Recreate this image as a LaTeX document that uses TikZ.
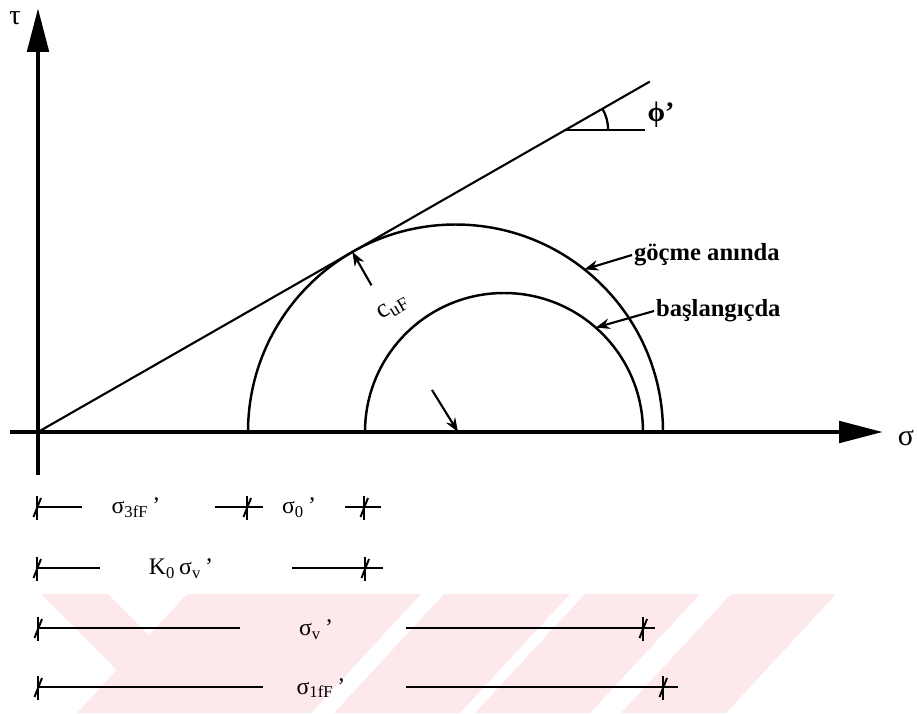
\documentclass[tikz,border=0pt]{standalone}
\usepackage{fontspec}
\setmainfont{Liberation Serif}
\usetikzlibrary{arrows.meta, positioning, calc}
\definecolor{WM}{RGB}{253,232,236}

% tick mark of the stress bars
\newcommand{\dimtick}[1]{%
  \draw[line width=1.1pt] ($(#1)+(0,0.22)$) -- ($(#1)+(0,-0.26)$);
  \draw[line width=1.1pt] ($(#1)+(-0.07,-0.2)$) -- ($(#1)+(0.08,0.18)$);}

\begin{document}
\begin{tikzpicture}[
  axis/.style={line width=2.8pt, -{Triangle[length=25pt,width=12pt]}},
  mohr/.style={line width=1.4pt},
  ptr/.style={-{Stealth[length=8pt,width=6pt]}, line width=1.2pt},
  dim/.style={line width=1pt},
  lbl/.style={font=\fontsize{13.5}{15}\selectfont, inner sep=1pt},
  tag/.style={font=\fontsize{14}{16}\selectfont\bfseries, anchor=west, inner sep=1pt}
]
\useasboundingbox (0,0) rectangle (18.34,-14.26);

% watermark bands
\fill[WM] (0.82,-11.88) -- (2.16,-11.88) -- (4.54,-14.26) -- (3.2,-14.26) -- cycle;
\fill[WM] (3.74,-11.88) -- (8.42,-11.88) -- (6.22,-14.26) -- (1.54,-14.26) -- cycle;
\fill[WM] (8.88,-11.88) -- (11.4,-11.88) -- (9.2,-14.26) -- (6.68,-14.26) -- cycle;
\fill[WM] (11.7,-11.88) -- (14.0,-11.88) -- (11.8,-14.26) -- (9.5,-14.26) -- cycle;
\fill[WM] (14.62,-11.88) -- (16.72,-11.88) -- (14.52,-14.26) -- (12.42,-14.26) -- cycle;

% axes
\coordinate (O) at (0.76,-8.64);
\coordinate (sx0) at (0.2,-8.64);
\coordinate (sx1) at (17.66,-8.64);
\coordinate (ty0) at (0.76,-9.5);
\coordinate (ty1) at (0.76,-0.16);
\draw[axis] (sx0) -- (sx1);
\draw[axis] (ty0) -- (ty1);
\node[font=\fontsize{17}{19}\selectfont] (sig) at (18.12,-8.76) {σ};
\node[font=\fontsize{16}{18}\selectfont] (tau) at (0.3,-0.36) {τ};

% Mohr circles
\coordinate (C1) at (9.11,-8.64);
\coordinate (C0) at (10.08,-8.64);
\draw[mohr] ($(C1)+(4.15,0)$) arc[start angle=0, end angle=180, radius=4.15];
\draw[mohr] ($(C0)+(2.78,0)$) arc[start angle=0, end angle=180, radius=2.78];

% failure envelope
\coordinate (E) at ($(O)+(29.8:14.1)$);
\draw[line width=1.2pt] (O) -- (E);
\coordinate (P) at ($(O)+(29.8:12.15)$);
\coordinate (Ph) at ($(P)+(1.6,0)$);
\draw[line width=1.1pt] (P) -- (Ph);
\draw[line width=1.3pt] ($(P)+(0.86,0)$) arc[start angle=0, end angle=29.8, radius=0.86];
\node[font=\fontsize{16}{18}\selectfont\bfseries] (phi) at (13.22,-2.3) {ϕ’};

% radius to the tangent point
\coordinate (T) at ($(C1)+(119.8:4.15)$);
\coordinate (Tr) at ($(C1)+(119.8:3.38)$);
\draw[ptr] (Tr) -- (T);
\node[font=\fontsize{15}{17}\selectfont, rotate=30] (cuf) at (7.86,-6.16) {c\textsubscript{uF}};

\coordinate (M0) at (8.64,-7.8);
\coordinate (M1) at (9.16,-8.64);
\draw[ptr] (M0) -- (M1);

% circle labels
\node[tag] (gocme) at (12.64,-5.1) {göçme anında};
\draw[ptr] (gocme.west) -- ($(C1)+(51.6:4.15)$);
\node[tag] (basla) at (13.08,-6.22) {başlangıçda};
\draw[ptr] (basla.west) -- ($(C0)+(48.7:2.78)$);

% stress bars
\coordinate (a1) at (0.74,-10.14);
\coordinate (b1) at (4.94,-10.14);
\coordinate (c1) at (7.28,-10.14);
\dimtick{a1} \dimtick{b1} \dimtick{c1}
\draw[dim] (a1) -- ++(0.9,0);
\node[lbl] (s3) at (2.72,-10.16) {σ\textsubscript{3fF}\,’};
\draw[dim] (b1) ++(0.32,0) -- ++(-0.96,0);
\node[lbl] (s0) at (5.98,-10.16) {σ\textsubscript{0}\,’};
\draw[dim] (c1) ++(0.34,0) -- ++(-0.72,0);

\coordinate (a2) at (0.74,-11.36);
\coordinate (c2) at (7.3,-11.36);
\dimtick{a2} \dimtick{c2}
\draw[dim] (a2) -- ++(1.26,0);
\node[lbl] (k0) at (3.62,-11.38) {K\textsubscript{0}\,σ\textsubscript{v}\,’};
\draw[dim] (c2) ++(0.36,0) -- ++(-1.82,0);

\coordinate (a3) at (0.76,-12.56);
\coordinate (d3) at (12.86,-12.56);
\dimtick{a3} \dimtick{d3}
\draw[dim] (a3) -- ++(4.04,0);
\node[lbl] (sv) at (6.32,-12.6) {σ\textsubscript{v}\,’};
\draw[dim] (d3) ++(0.24,0) -- ++(-4.98,0);

\coordinate (a4) at (0.76,-13.74);
\coordinate (e4) at (13.26,-13.74);
\dimtick{a4} \dimtick{e4}
\draw[dim] (a4) -- ++(4.5,0);
\node[lbl] (s1) at (6.42,-13.76) {σ\textsubscript{1fF}\,’};
\draw[dim] (e4) ++(0.3,0) -- ++(-5.44,0);
\end{tikzpicture}
\end{document}
